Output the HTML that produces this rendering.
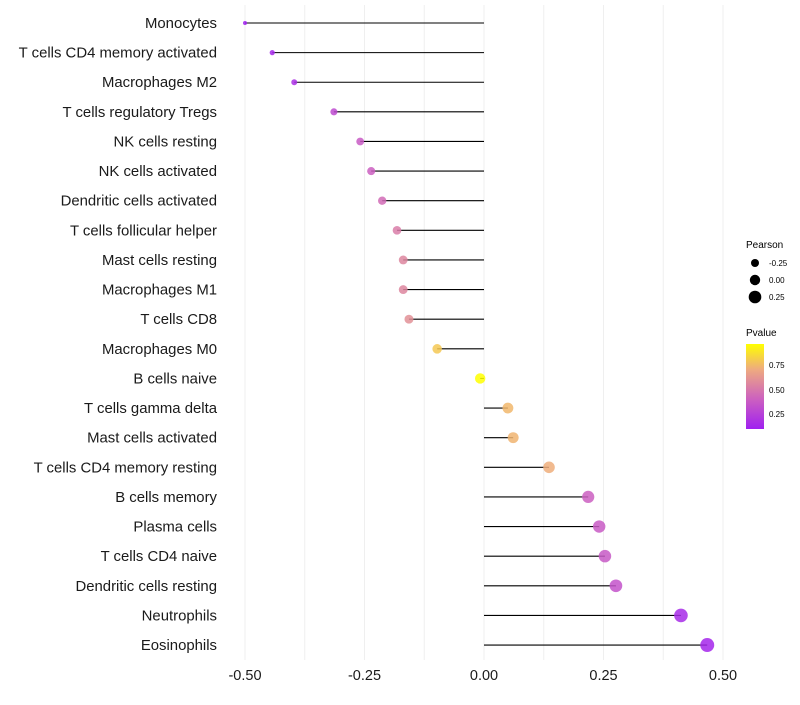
<!DOCTYPE html>
<html><head><meta charset="utf-8"><style>
body{margin:0;background:#fff;font-family:"Liberation Sans",sans-serif}
</style></head><body>
<svg id="c" width="800" height="700" xmlns="http://www.w3.org/2000/svg">
<defs><linearGradient id="pg" x1="0" y1="1" x2="0" y2="0">
<stop offset="0" stop-color="#a020f0"/><stop offset="0.35" stop-color="#cc60c0"/><stop offset="0.7" stop-color="#eeaa80"/><stop offset="1" stop-color="#ffff00"/>
</linearGradient></defs>
<g id="grid"></g><g id="marks"></g><g id="labels"></g>
<g>
<text x="746" y="248" font-size="10">Pearson</text>
<circle cx="755" cy="263" r="4"/><text x="769" y="266" font-size="8">-0.25</text>
<circle cx="755" cy="280" r="5.2"/><text x="769" y="283" font-size="8">0.00</text>
<circle cx="755" cy="297" r="6.3"/><text x="769" y="300" font-size="8">0.25</text>
</g>
<g>
<text x="746" y="336" font-size="10">Pvalue</text>
<rect x="746" y="344" width="18" height="85" fill="url(#pg)"/>
<text x="769" y="368" font-size="8">0.75</text><text x="769" y="393" font-size="8">0.50</text><text x="769" y="417" font-size="8">0.25</text>
</g>
</svg>
<script>
const cells=["Monocytes","T cells CD4 memory activated","Macrophages M2","T cells regulatory  Tregs ","NK cells resting","NK cells activated","Dendritic cells activated","T cells follicular helper","Mast cells resting","Macrophages M1","T cells CD8","Macrophages M0","B cells naive","T cells gamma delta","Mast cells activated","T cells CD4 memory resting","B cells memory","Plasma cells","T cells CD4 naive","Dendritic cells resting","Neutrophils","Eosinophils"];
const pearson=[-0.50,-0.443,-0.397,-0.314,-0.259,-0.236,-0.213,-0.182,-0.169,-0.169,-0.157,-0.098,-0.008,0.050,0.061,0.136,0.218,0.241,0.253,0.276,0.412,0.467];
const pvalue=[0.10,0.14,0.17,0.30,0.38,0.40,0.45,0.52,0.56,0.56,0.60,0.80,0.97,0.75,0.74,0.72,0.40,0.38,0.37,0.34,0.15,0.13];
const xticks=[-0.5,-0.25,0,0.25,0.5];
const xLabels=["-0.50","-0.25","0.00","0.25","0.50"];
const NS="http://www.w3.org/2000/svg";
const x=v=>484+v*478;
const y=i=>23+i*29.62;
const rad=v=>Math.sqrt(Math.max(1,27.3+46.5*v));
const stops=[[0,[160,32,240]],[0.35,[204,96,192]],[0.7,[238,170,128]],[1,[255,255,0]]];
function col(p){let t=(p-0.1)/(0.97-0.1);t=Math.max(0,Math.min(1,t));
for(let k=0;k<stops.length-1;k++){const a=stops[k],b=stops[k+1];if(t<=b[0]){const f=(t-a[0])/(b[0]-a[0]);return "rgb("+a[1].map((c,j)=>Math.round(c+(b[1][j]-c)*f)).join(",")+")";}}return "rgb(255,255,0)";}
function mk(t,a,par){const e=document.createElementNS(NS,t);for(const k in a)e.setAttribute(k,a[k]);document.getElementById(par).appendChild(e);return e;}
for(let g=-0.5;g<=0.5001;g+=0.125){const l=mk("line",{x1:x(g),x2:x(g),y1:5,y2:660,stroke:"#efefef","stroke-width":1},"grid");

}
xticks.forEach((t,i)=>{const e=mk("text",{x:x(t),y:680,"font-size":14.5,"text-anchor":"middle",fill:"#1a1a1a"},"labels");e.textContent=xLabels[i];

});
cells.forEach((c,i)=>{
const tl=mk("text",{x:217,y:y(i)+5,"font-size":14.9,"text-anchor":"end",fill:"#1a1a1a","xml:space":"preserve"},"labels");tl.textContent=c;


const ln=mk("line",{x1:x(0),x2:x(pearson[i]),y1:y(i),y2:y(i),stroke:"#000","stroke-width":1.1},"marks");


const pt=mk("circle",{cx:x(pearson[i]),cy:y(i),r:rad(pearson[i]),fill:col(pvalue[i]),"fill-opacity":0.85},"marks");


});
</script>
</body></html>
